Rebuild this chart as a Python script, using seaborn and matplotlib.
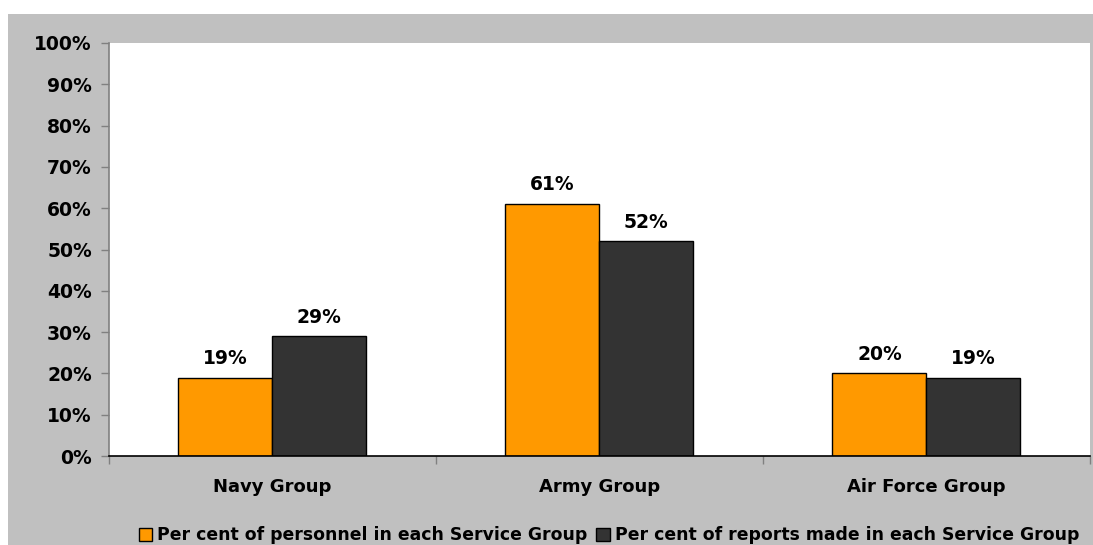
import matplotlib
matplotlib.use("Agg")
import matplotlib.pyplot as plt
from matplotlib.patches import Rectangle
from matplotlib.ticker import MultipleLocator, FixedLocator, PercentFormatter
import seaborn as sns
import pandas as pd

groups = ["Navy Group", "Army Group", "Air Force Group"]
personnel = [19, 61, 20]
reports = [29, 52, 19]
series = ["Per cent of personnel in each Service Group",
          "Per cent of reports made in each Service Group"]

df = pd.DataFrame({
    "group": groups * 2,
    "value": personnel + reports,
    "series": [series[0]] * len(groups) + [series[1]] * len(groups),
})

sns.set_theme(style="white")
plt.rcParams["font.family"] = ["DejaVu Sans"]
plt.rcParams["font.weight"] = "bold"
plt.rcParams["text.color"] = "black"

W, H = 1093, 545
fig = plt.figure(figsize=(W / 100, H / 100), dpi=100, facecolor="white")
# grey chart area behind the white plot
fig.patches.append(Rectangle((8 / W, 0), 1 - 8 / W, 1 - 14 / H,
                             transform=fig.transFigure, facecolor="#c0c0c0",
                             edgecolor="none", zorder=-10))

ax = fig.add_axes([108.5 / W, 1 - 456 / H, (1090 - 108.5) / W, (456 - 43) / H])
ax.set_facecolor("white")

palette = {series[0]: "#ff9900", series[1]: "#333333"}
sns.barplot(data=df, x="group", y="value", hue="series", order=groups,
            hue_order=series, palette=palette, width=0.575, saturation=1,
            edgecolor="black", linewidth=1, ax=ax)

for cont in ax.containers:
    ax.bar_label(cont, labels=[f"{v:.0f}%" for v in cont.datavalues],
                 padding=7, fontsize=13.5, fontweight="bold", color="black")

ax.set_ylim(0, 100)
ax.set_xlim(-0.5, len(groups) - 0.5)
ax.yaxis.set_major_locator(MultipleLocator(10))
ax.yaxis.set_major_formatter(PercentFormatter(decimals=0))
ax.set_xlabel("")
ax.set_ylabel("")

for s in ["top", "right"]:
    ax.spines[s].set_visible(False)
ax.spines["left"].set_color("#808080")
ax.spines["left"].set_linewidth(1.2)
ax.spines["bottom"].set_color("black")
ax.spines["bottom"].set_linewidth(1.2)

ax.tick_params(axis="y", which="major", left=True, length=6, width=1,
               color="#808080", labelsize=13.5, labelcolor="black", pad=6)
ax.tick_params(axis="x", which="major", bottom=False, labelsize=13,
               labelcolor="black", pad=10)
ax.xaxis.set_minor_locator(FixedLocator([-0.5, 0.5, 1.5, 2.5]))
ax.tick_params(axis="x", which="minor", bottom=True, length=6, width=1,
               color="#808080")
for lab in ax.get_xticklabels() + ax.get_yticklabels():
    lab.set_fontweight("bold")

leg = ax.legend(loc="lower center", bbox_to_anchor=(0.51, -0.23),
                ncol=2, frameon=False, fontsize=12.4, handlelength=0.8,
                handleheight=0.8, handletextpad=0.3, columnspacing=0.5,
                borderaxespad=0)
for t in leg.get_texts():
    t.set_fontweight("bold")
    t.set_color("black")

fig.savefig("out.png", dpi=100, facecolor=fig.get_facecolor())
